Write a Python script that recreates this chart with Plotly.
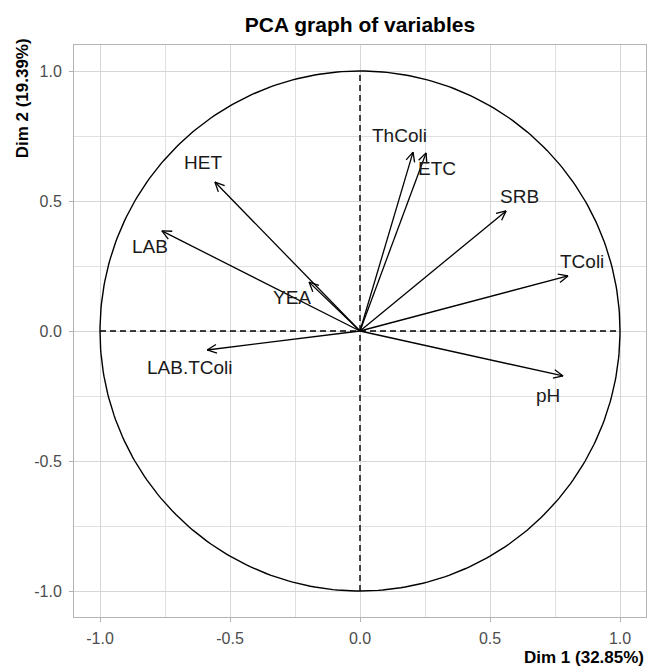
import numpy as np
import plotly.graph_objects as go

# ---- data ----
variables = ["HET", "LAB", "YEA", "LAB.TColi", "ThColi", "ETC", "SRB", "TColi", "pH"]
dim1 = [-0.558, -0.762, -0.196, -0.588, 0.204, 0.254, 0.562, 0.800, 0.781]
dim2 = [0.573, 0.385, 0.188, -0.073, 0.688, 0.685, 0.462, 0.212, -0.173]
tick_vals = [-1.0, -0.5, 0.0, 0.5, 1.0]
tick_text = ["-1.0", "-0.5", "0.0", "0.5", "1.0"]
title_text = "PCA graph of variables"
xlab = "Dim 1 (32.85%)"
ylab = "Dim 2 (19.39%)"

# ---- style: label offsets in pixels (right, down) ----
label_offsets = {
    "HET": (-12, -20), "LAB": (-12, 16), "YEA": (-17, 15), "LAB.TColi": (-17, 18),
    "ThColi": (-14, -17), "ETC": (11, 16), "SRB": (13, -14), "TColi": (14, -14),
    "pH": (-15, 20),
}
FONT = "Liberation Sans, Arial, sans-serif"

fig = go.Figure()

# unit circle
t = np.linspace(0, 2 * np.pi, 361)
fig.add_trace(go.Scatter(x=np.cos(t), y=np.sin(t), mode="lines",
                         line=dict(color="black", width=1.4), hoverinfo="skip", showlegend=False))

# dashed axes through origin
fig.add_trace(go.Scatter(x=[-1, 1, None, 0, 0], y=[0, 0, None, -1, 1], mode="lines",
                         line=dict(color="black", width=1.4, dash="6px,4px"),
                         hoverinfo="skip", showlegend=False))

# arrows
hl = 0.04
ang = np.deg2rad(25)
xs, ys = [], []
for x, y in zip(dim1, dim2):
    xs += [0, x, None]
    ys += [0, y, None]
    th = np.arctan2(y, x)
    for s in (1, -1):
        xs += [x, x - hl * np.cos(th + s * ang), None]
        ys += [y, y - hl * np.sin(th + s * ang), None]
fig.add_trace(go.Scatter(x=xs, y=ys, mode="lines", line=dict(color="black", width=1.3),
                         hoverinfo="skip", showlegend=False))

# labels
for name, x, y in zip(variables, dim1, dim2):
    dx, dy = label_offsets[name]
    fig.add_annotation(x=x, y=y, text=name, showarrow=False, xshift=dx, yshift=-dy,
                       xanchor="center", yanchor="middle",
                       font=dict(family=FONT, size=19, color="#1a1a1a"))

# axis titles
fig.add_annotation(x=1, y=-0.07, xref="paper", yref="paper", text="<b>" + xlab + "</b>",
                   showarrow=False, xanchor="right", yanchor="middle",
                   font=dict(family=FONT, size=17, color="black"))
fig.add_annotation(x=-0.091, y=1.015, xref="paper", yref="paper", text="<b>" + ylab + "</b>",
                   showarrow=False, xanchor="center", yanchor="top", textangle=-90,
                   font=dict(family=FONT, size=17, color="black"))

axis_common = dict(
    range=[-1.1, 1.1], tickvals=tick_vals, ticktext=tick_text,
    showgrid=True, gridcolor="#d6d6d6", gridwidth=1,
    minor=dict(dtick=0.25, tick0=0, showgrid=True, gridcolor="#e0e0e0", gridwidth=1),
    zeroline=False, showline=True, mirror=True, linecolor="#b3b3b3", linewidth=1,
    ticks="outside", ticklen=4, tickcolor="#b3b3b3",
    tickfont=dict(family=FONT, size=16, color="#4d4d4d"),
)
fig.update_xaxes(**axis_common, ticklabelstandoff=3)
fig.update_yaxes(**axis_common, ticklabelstandoff=4)

fig.update_layout(
    width=648, height=666,
    margin=dict(l=74, r=2, t=45, b=49),
    paper_bgcolor="white", plot_bgcolor="white",
    title=dict(text="<b>" + title_text + "</b>", x=0.5, xref="paper",
               y=1 - 25 / 666, yref="container", yanchor="middle", xanchor="center",
               font=dict(family=FONT, size=21, color="black")),
    showlegend=False,
)

fig.write_html("out.html")
